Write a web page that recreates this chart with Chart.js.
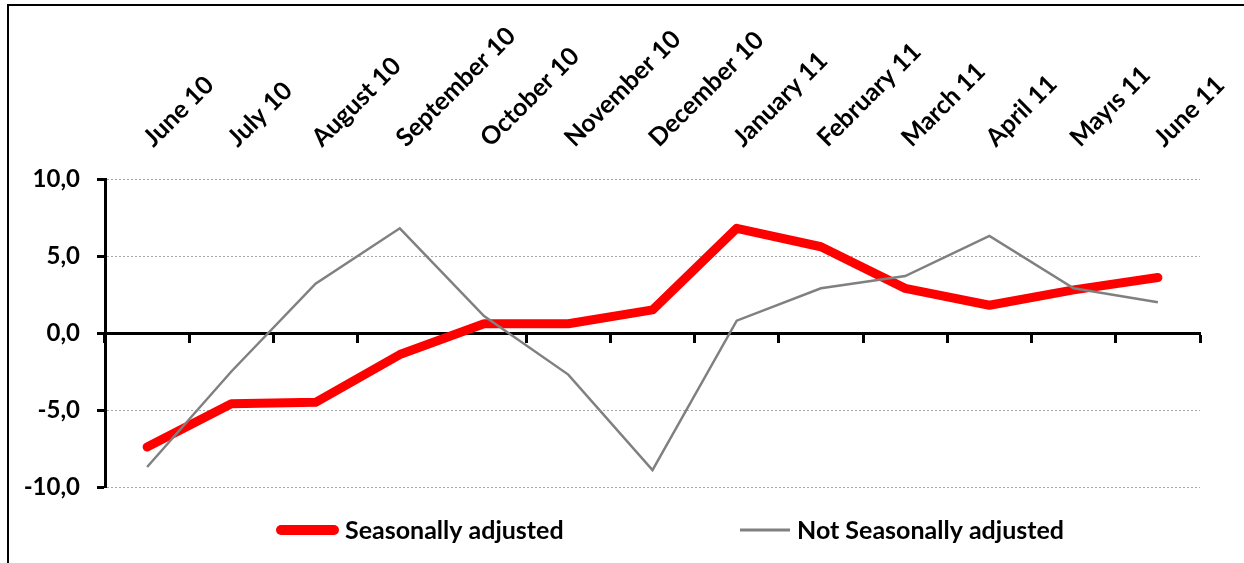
<!DOCTYPE html>
<html>
<head>
<meta charset="utf-8">
<script src="https://cdn.jsdelivr.net/npm/chart.js@4/dist/chart.umd.min.js"></script>
<style>
  html, body { margin: 0; padding: 0; background: #fff; }
  #wrap { position: relative; width: 1244px; height: 563px; overflow: hidden; }
  #frame { position: absolute; left: 7px; top: 4px; width: 1400px; height: 800px;
           border-left: 2px solid #000; border-top: 2px solid #000; pointer-events: none; }
  canvas { position: absolute; left: 0; top: 0; }
</style>
</head>
<body>
<div id="wrap">
  <canvas id="chart" width="1244" height="563"></canvas>
  <div id="frame"></div>
</div>
<script>
// Monthly change, %
const categories = ['June 10', 'July 10', 'August 10', 'September 10', 'October 10', 'November 10',
  'December 10', 'January 11', 'February 11', 'March 11', 'April 11', 'Mayıs 11', 'June 11'];
const seasonallyAdjusted = [-7.4, -4.6, -4.5, -1.4, 0.6, 0.6, 1.5, 6.8, 5.6, 2.9, 1.8, 2.8, 3.6];
const notSeasonallyAdjusted = [-8.7, -2.5, 3.2, 6.8, 1.1, -2.7, -8.9, 0.8, 2.9, 3.7, 6.3, 2.9, 2.0];
const yTicks = [-10, -5, 0, 5, 10];
const seriesNames = ['Seasonally adjusted', 'Not Seasonally adjusted'];

const FONT = 'Lato, "Open Sans", sans-serif';

// Legend drawn below the plot: a line sample followed by the series name
const lineLegend = {
  id: 'lineLegend',
  afterDraw(chart, args, opts) {
    const ctx = chart.ctx;
    chart.data.datasets.forEach((ds, i) => {
      const it = opts.items[i];
      ctx.save();
      ctx.strokeStyle = ds.borderColor;
      ctx.lineWidth = it.lineWidth;
      ctx.lineCap = it.cap;
      ctx.beginPath();
      ctx.moveTo(it.x, opts.y);
      ctx.lineTo(it.x + it.w, opts.y);
      ctx.stroke();
      ctx.fillStyle = '#000';
      ctx.font = opts.font;
      ctx.textBaseline = 'middle';
      ctx.textAlign = 'left';
      ctx.fillText(ds.label, it.x + it.w + it.gap, opts.y + 1);
      ctx.restore();
    });
  }
};

new Chart(document.getElementById('chart'), {
  type: 'line',
  data: {
    labels: categories,
    datasets: [
      {
        label: seriesNames[0],
        data: seasonallyAdjusted,
        borderColor: '#ff0000',
        borderWidth: 9,
        borderJoinStyle: 'round',
        borderCapStyle: 'round',
        pointRadius: 0,
        tension: 0,
        order: 1,
        clip: false
      },
      {
        label: seriesNames[1],
        data: notSeasonallyAdjusted,
        borderColor: '#808080',
        borderWidth: 2.5,
        borderJoinStyle: 'miter',
        pointRadius: 0,
        tension: 0,
        order: 0,
        clip: false
      }
    ]
  },
  options: {
    responsive: false,
    animation: false,
    events: [],
    layout: { padding: { left: 0, right: 44, top: 0, bottom: 76 } },
    plugins: {
      legend: { display: false },
      tooltip: { enabled: false },
      lineLegend: {
        y: 530,
        font: 'bold 25px ' + FONT,
        items: [
          { x: 281, w: 53, gap: 11, lineWidth: 10, cap: 'round' },
          { x: 740, w: 50, gap: 7, lineWidth: 3, cap: 'butt' }
        ]
      }
    },
    scales: {
      y: {
        min: -10,
        max: 10,
        afterBuildTicks(scale) { scale.ticks = yTicks.map(v => ({ value: v })); },
        afterFit(scale) { scale.width = 105; },
        ticks: {
          color: '#000',
          padding: 17,
          font: { family: FONT, size: 24, weight: 'bold' },
          callback: v => v.toFixed(1).replace('.', ',')
        },
        grid: {
          color: '#a6a6a6',
          lineWidth: 1,
          tickColor: '#000',
          tickWidth: 3,
          tickLength: 8,
          tickBorderDash: []
        },
        border: { display: true, color: '#000', width: 3, dash: [2, 2] }
      },
      x: {
        type: 'category',
        position: { y: 0 },
        offset: true,
        afterFit(scale) { scale.height = 0; },
        ticks: { display: false },
        grid: {
          offset: true,
          drawOnChartArea: false,
          drawTicks: true,
          tickLength: 8,
          tickWidth: 3,
          tickColor: '#000'
        },
        border: { display: true, color: '#000', width: 3 }
      },
      x2: {
        type: 'category',
        labels: categories,
        position: 'top',
        offset: true,
        afterFit(scale) { scale.height = 179; },
        grid: { display: false },
        border: { display: false },
        ticks: {
          color: '#000',
          autoSkip: false,
          minRotation: 45,
          maxRotation: 45,
          padding: 18,
          labelOffset: 22,
          font: { family: FONT, size: 25, weight: 'bold' }
        }
      }
    }
  },
  plugins: [lineLegend]
});
</script>
</body>
</html>
